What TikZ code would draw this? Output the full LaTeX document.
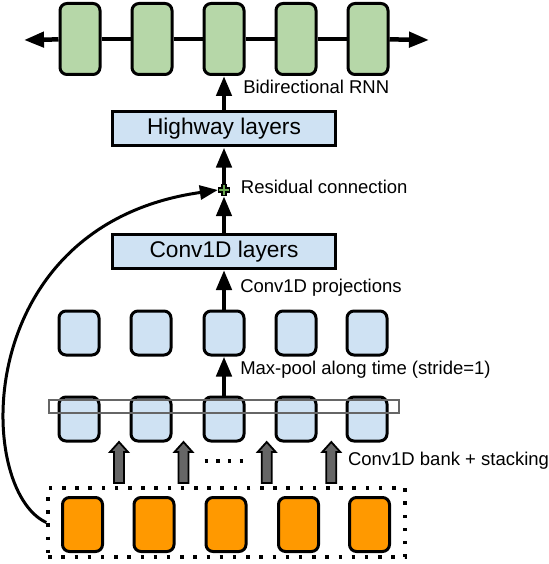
\documentclass[tikz,border=0pt]{standalone}
\usepackage{fontspec}
\setmainfont{Liberation Sans}
\usetikzlibrary{arrows.meta,positioning}

\definecolor{rnngreen}{HTML}{B6D7A8}
\definecolor{convblue}{HTML}{CFE2F3}
\definecolor{inorange}{HTML}{FF9900}
\definecolor{bankgray}{HTML}{666666}
\definecolor{addgreen}{HTML}{6AA84F}

\tikzset{
  cell/.style={draw, line width=3pt, rounded corners=7pt, minimum width=40pt, inner sep=0pt},
  rnncell/.style={cell, fill=rnngreen, minimum height=71pt},
  convcell/.style={cell, fill=convblue, minimum height=44pt},
  inputcell/.style={cell, fill=inorange, minimum height=54pt},
  layerbox/.style={draw, line width=3pt, fill=convblue, minimum width=223pt, minimum height=34pt, inner sep=0pt, font=\fontsize{22.7}{25}\selectfont},
  flow/.style={-{Triangle[length=20pt,width=15pt]}, line width=4.5pt},
  lbl/.style={font=\fontsize{18.5}{21}\selectfont, inner sep=0pt},
}

\begin{document}
\begin{tikzpicture}[x=1pt, y=-1pt]
    \useasboundingbox (0,0) rectangle (548,564);

    % Input sequence
    \node[draw, line width=3.5pt, dash pattern=on 3.5pt off 9.7pt, minimum width=357pt, minimum height=69pt] (inbox) at (226.6,522.5) {};
    \foreach \i/\x in {1/82.5,2/154,3/226,4/298.5,5/369.5}
        \node[inputcell] (in\i) at (\x,524.5) {};

    % Conv1D bank + stacking
    \foreach \x in {119,183.5,266.7,331.3}
        \draw[line width=1.8pt, fill=bankgray] (\x-5,483) -- (\x-5,452) -- (\x-9,452) -- (\x,442)
            -- (\x+9,452) -- (\x+5,452) -- (\x+5,483) -- cycle;
    \draw[line width=3.5pt, dash pattern=on 3.5pt off 8.2pt] (204.5,461) -- (243,461);
    \node[lbl, anchor=west] (banklbl) at (347.8,461) {Conv1D bank + stacking};

    \foreach \i/\x in {1/79,2/151,3/224,4/296,5/367}
        \node[convcell] (b\i) at (\x,419) {};
    \node[draw=bankgray, line width=2pt, minimum width=350pt, minimum height=13pt] (window) at (223.5,406) {};

    % Max-pool
    \foreach \i/\x in {1/79,2/151,3/224,4/296,5/367}
        \node[convcell] (m\i) at (\x,333) {};
    \draw[flow] (b3.north) -- (m3.south) node[lbl, pos=0.65, anchor=west, xshift=14pt] {Max-pool along time (stride=1)};

    % Conv1D projections
    \node[layerbox] (cv) at (224,251.5) {Conv1D layers};
    \draw[flow] (m3.north) -- (cv.south) node[lbl, pos=0.54, anchor=west, xshift=14pt] {Conv1D projections};

    % Residual connection
    \node[minimum size=12pt, inner sep=0pt] (add) at (224,190) {};
    \draw[flow] (cv.north) -- (add.south);
    \draw[line width=5.5pt] (add.west) -- (add.east) (add.north) -- (add.south);
    \draw[addgreen, line width=2pt] ([xshift=1.5pt]add.west) -- ([xshift=-1.5pt]add.east)
        ([yshift=-1.5pt]add.north) -- ([yshift=1.5pt]add.south);
    \node[lbl, right=10.5pt of add, yshift=3pt] {Residual connection};
    \draw[-{Triangle[length=18pt,width=14pt]}, line width=3pt] (inbox.west) .. controls (-25,490) and (-30,225) .. (add.west);

    % Highway layers
    \node[layerbox] (hw) at (224,129) {Highway layers};
    \draw[flow] (add.north) -- (hw.south);

    % Bidirectional RNN
    \foreach \i/\x in {1/80,2/152,3/224,4/296,5/368}
        \node[rnncell] (g\i) at (\x,39) {};
    \coordinate (lend) at (24,40);
    \coordinate (rend) at (429,40);
    \foreach \a/\b in {g1/g2,g2/g3,g3/g4,g4/g5}
        \draw[line width=4.5pt] (\a) -- (\b);
    \draw[flow] (g1) -- (lend);
    \draw[flow] (g5) -- (rend);
    \draw[flow] (hw.north) -- (g3.south) node[lbl, pos=0.69, anchor=west, xshift=17pt] {Bidirectional RNN};
\end{tikzpicture}
\end{document}
